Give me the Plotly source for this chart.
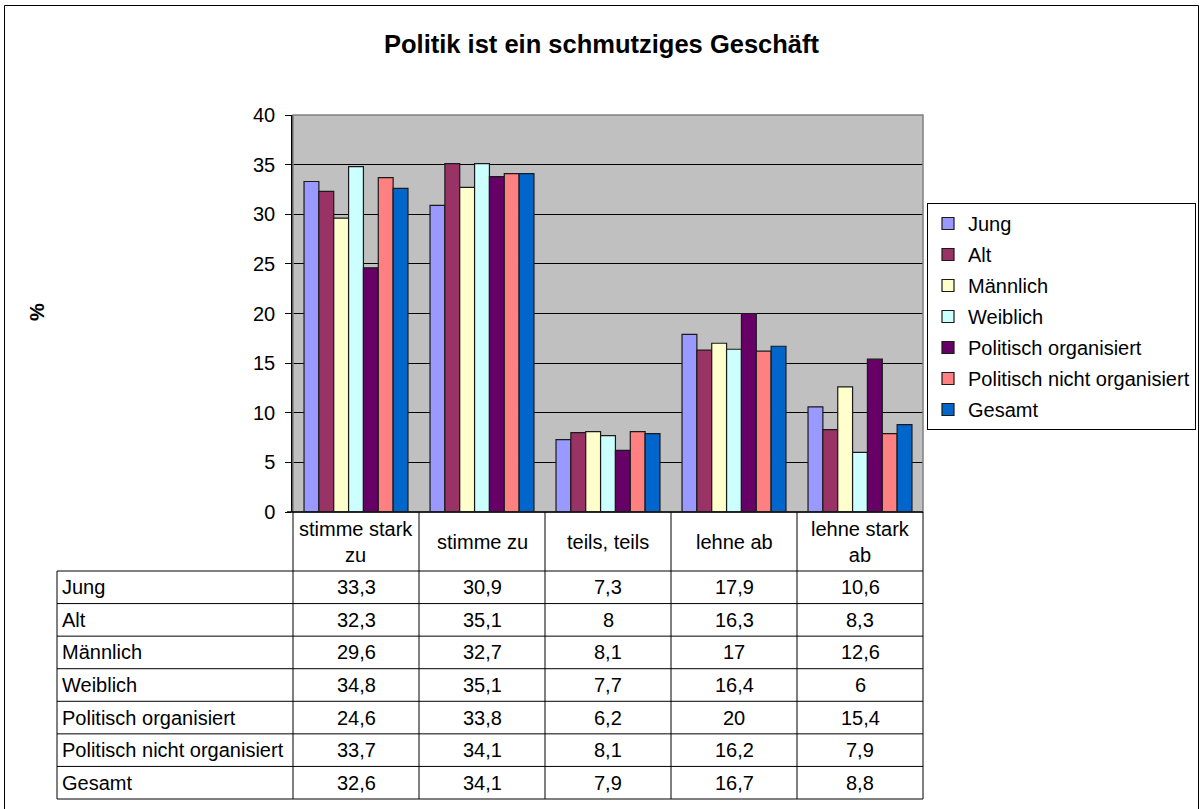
import plotly.graph_objects as go

categories = ["stimme stark zu", "stimme zu", "teils, teils", "lehne ab", "lehne stark ab"]
category_labels = ["stimme stark<br>zu", "stimme zu", "teils, teils", "lehne ab", "lehne stark<br>ab"]
series_names = ["Jung", "Alt", "Männlich", "Weiblich", "Politisch organisiert",
                "Politisch nicht organisiert", "Gesamt"]
jung = [33.3, 30.9, 7.3, 17.9, 10.6]
alt = [32.3, 35.1, 8, 16.3, 8.3]
maennlich = [29.6, 32.7, 8.1, 17, 12.6]
weiblich = [34.8, 35.1, 7.7, 16.4, 6]
pol_org = [24.6, 33.8, 6.2, 20, 15.4]
pol_nicht_org = [33.7, 34.1, 8.1, 16.2, 7.9]
gesamt = [32.6, 34.1, 7.9, 16.7, 8.8]
series_values = [jung, alt, maennlich, weiblich, pol_org, pol_nicht_org, gesamt]
colors = ["#9999FF", "#993366", "#FFFFCC", "#CCFFFF", "#660066", "#FF8080", "#0066CC"]
y_ticks = [0, 5, 10, 15, 20, 25, 30, 35, 40]

W, H = 1203, 809
FONT = "Arial, Liberation Sans, sans-serif"


def px(x):
    return x / W


def py(y):
    return 1 - y / H


# layout geometry (pixels)
PL, PR, PT, PB = 293, 923, 115, 512
TL = 57
HEADER_B = 571
TABLE_B = 799
n_rows = len(series_names)
row_h = (TABLE_B - HEADER_B) / n_rows
cat_w = (PR - PL) / len(categories)

fig = go.Figure()
for name, vals, col in zip(series_names, series_values, colors):
    fig.add_trace(go.Bar(
        x=categories, y=vals, name=name, legendgroup=name,
        marker=dict(color=col, line=dict(color="#1a1a1a", width=1.2)),
    ))

shapes = []
# plot area border (gray)
shapes.append(dict(type="rect", xref="paper", yref="paper",
                   x0=px(PL), x1=px(PR), y0=py(PB), y1=py(PT),
                   line=dict(color="#808080", width=1.5), layer="above"))
# outer chart border
shapes.append(dict(type="rect", xref="paper", yref="paper",
                   x0=px(4.5), x1=px(1198.5), y0=py(815), y1=py(5.5),
                   line=dict(color="#000000", width=1)))
# table horizontal lines
for i in range(n_rows + 1):
    yy = HEADER_B + i * row_h
    shapes.append(dict(type="line", xref="paper", yref="paper",
                       x0=px(TL), x1=px(PR), y0=py(yy), y1=py(yy),
                       line=dict(color="#000000", width=1)))
# table vertical lines
for k in range(len(categories) + 1):
    xx = PL + k * cat_w
    shapes.append(dict(type="line", xref="paper", yref="paper",
                       x0=px(xx), x1=px(xx), y0=py(PB), y1=py(TABLE_B),
                       line=dict(color="#000000", width=1)))
shapes.append(dict(type="line", xref="paper", yref="paper",
                   x0=px(TL), x1=px(TL), y0=py(HEADER_B), y1=py(TABLE_B),
                   line=dict(color="#000000", width=1)))
# x axis line
shapes.append(dict(type="line", xref="paper", yref="paper",
                   x0=px(PL - 6), x1=px(PR), y0=py(PB), y1=py(PB),
                   line=dict(color="#000000", width=1.5), layer="above"))

TXT = 20
annotations = []
# header category labels
for k, lab in enumerate(category_labels):
    annotations.append(dict(x=px(PL + (k + 0.5) * cat_w), y=py((PB + HEADER_B) / 2),
                            xref="paper", yref="paper", text=lab, showarrow=False,
                            font=dict(size=TXT, family=FONT, color="#000"),
                            xanchor="center", yanchor="middle", align="center"))


def fmt(v):
    return f"{v:g}".replace(".", ",")


for i, (name, vals) in enumerate(zip(series_names, series_values)):
    yc = HEADER_B + (i + 0.5) * row_h
    annotations.append(dict(x=px(TL + 3), y=py(yc), xref="paper", yref="paper",
                            text=name, showarrow=False, xanchor="left", yanchor="middle",
                            font=dict(size=TXT, family=FONT, color="#000")))
    for k, v in enumerate(vals):
        annotations.append(dict(x=px(PL + (k + 0.5) * cat_w), y=py(yc),
                                xref="paper", yref="paper", text=fmt(v), showarrow=False,
                                xanchor="center", yanchor="middle",
                                font=dict(size=TXT, family=FONT, color="#000")))
# y axis title
annotations.append(dict(x=px(37), y=py(312), xref="paper", yref="paper", text="<b>%</b>",
                        showarrow=False, textangle=-90, xanchor="center", yanchor="middle",
                        font=dict(size=TXT, family=FONT, color="#000")))

fig.update_layout(
    width=W, height=H, autosize=False,
    margin=dict(l=0, r=0, t=0, b=0, autoexpand=False),
    paper_bgcolor="#FFFFFF", plot_bgcolor="#C0C0C0",
    barmode="group", bargap=0.175, bargroupgap=0,
    font=dict(family=FONT, size=TXT, color="#000"),
    title=dict(text="<b>Politik ist ein schmutziges Geschäft</b>", x=0.5, xanchor="center",
               y=py(44), yanchor="middle", font=dict(size=25.5, family=FONT, color="#000")),
    xaxis=dict(domain=[px(PL), px(PR)], showticklabels=False, showgrid=False,
               zeroline=False, showline=False, ticks=""),
    yaxis=dict(domain=[py(PB), py(PT)], range=[0, 40], tickvals=y_ticks,
               showgrid=True, gridcolor="#000000", gridwidth=1,
               zeroline=False, showline=True, linecolor="#000000", linewidth=1.5,
               ticks="outside", ticklen=6, tickcolor="#000000", ticklabelstandoff=6,
               tickfont=dict(size=TXT, family=FONT, color="#000")),
    legend=dict(x=px(1196), y=py(203), xanchor="right", yanchor="top",
                bordercolor="#000000", borderwidth=1, bgcolor="#FFFFFF",
                font=dict(size=TXT, family=FONT, color="#000"),
                tracegroupgap=2, itemclick=False, itemwidth=30),
    shapes=shapes, annotations=annotations,
    showlegend=True,
)

fig.write_html(
    "out.html",
    config={"displayModeBar": False},
    post_script="document.body.style.margin='0px';document.body.style.overflow='hidden';",
)
